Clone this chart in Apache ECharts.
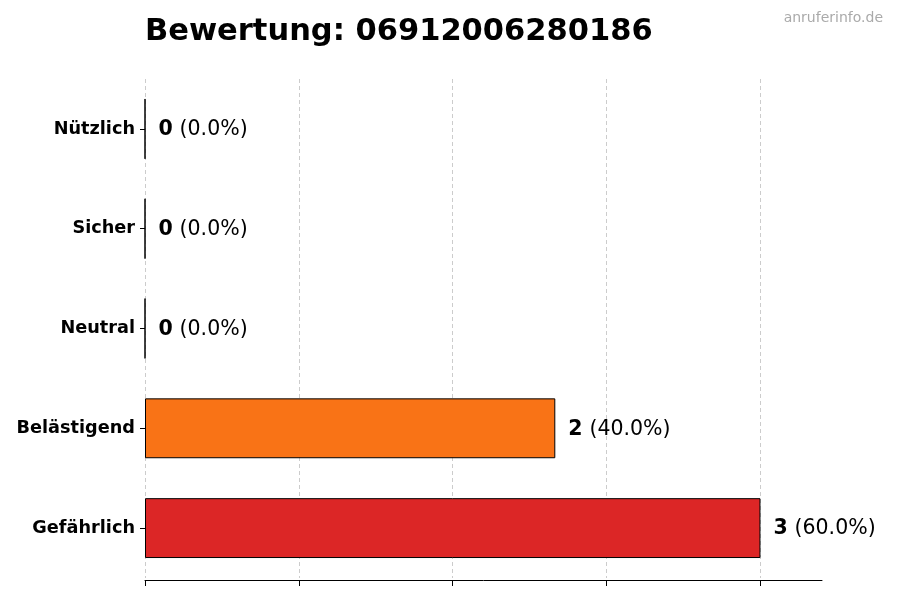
<!DOCTYPE html>
<html>
<head>
<meta charset="utf-8">
<script src="https://cdn.jsdelivr.net/npm/echarts@6/dist/echarts.min.js"></script>
<style>
  html, body { margin: 0; padding: 0; background: #fff; }
  #chart { width: 900px; height: 600px; }
</style>
</head>
<body>
<div id="chart"></div>
<script>
var categories = ['Gefährlich', 'Belästigend', 'Neutral', 'Sicher', 'Nützlich'];
var counts = [3, 2, 0, 0, 0];
var percents = [60.0, 40.0, 0.0, 0.0, 0.0];
var barColors = ['#dc2626', '#f97316', '#9ca3af', '#22c55e', '#3b82f6'];
var tickValues = [0, 0.75, 1.5, 2.25, 3];

var chart = echarts.init(document.getElementById('chart'));
var font = 'DejaVu Sans';

var option = {
  animation: false,
  textStyle: { fontFamily: font },
  title: [{
    text: 'Bewertung: 06912006280186',
    left: 140,
    top: 12,
    textStyle: { fontSize: 30.5, fontWeight: 'bold', color: '#000', fontFamily: font }
  }, {
    text: 'anruferinfo.de',
    right: 12,
    top: 6,
    textStyle: { fontSize: 14, fontWeight: 'normal', color: '#aaaaaa', fontFamily: font }
  }],
  grid: { left: 145, right: 78, top: 79, bottom: 22, containLabel: false },
  xAxis: {
    type: 'value',
    min: 0,
    max: 3.3,
    offset: 2,
    axisLine: { show: true, lineStyle: { color: '#000', width: 1 } },
    axisTick: { show: true, customValues: tickValues, length: 6, lineStyle: { color: '#000' } },
    axisLabel: { show: false },
    splitLine: { show: true, lineStyle: { color: '#cccccc', type: [4, 3], width: 1 } }
  },
  yAxis: {
    type: 'category',
    data: categories,
    axisLine: { show: false },
    axisTick: { show: true, alignWithLabel: true, length: 5, lineStyle: { color: '#000' } },
    axisLabel: { fontSize: 17.7, fontWeight: 'bold', color: '#000', margin: 10, fontFamily: font }
  },
  series: [{
    type: 'bar',
    barWidth: '60%',
    data: counts.map(function (v, i) {
      return { value: v, itemStyle: { color: barColors[i] } };
    }),
    itemStyle: { borderColor: '#000', borderWidth: 1 },
    label: {
      show: true,
      position: 'right',
      distance: 13,
      offset: [0, 1],
      formatter: function (p) {
        return '{b|' + counts[p.dataIndex] + '} {n|(' + percents[p.dataIndex].toFixed(1) + '%)}';
      },
      rich: {
        b: { fontSize: 20.5, fontWeight: 'bold', color: '#000', fontFamily: font, padding: [0, 3, 0, 0] },
        n: { fontSize: 20.5, color: '#000', fontFamily: font }
      }
    }
  }]
};

chart.setOption(option);
</script>
</body>
</html>
